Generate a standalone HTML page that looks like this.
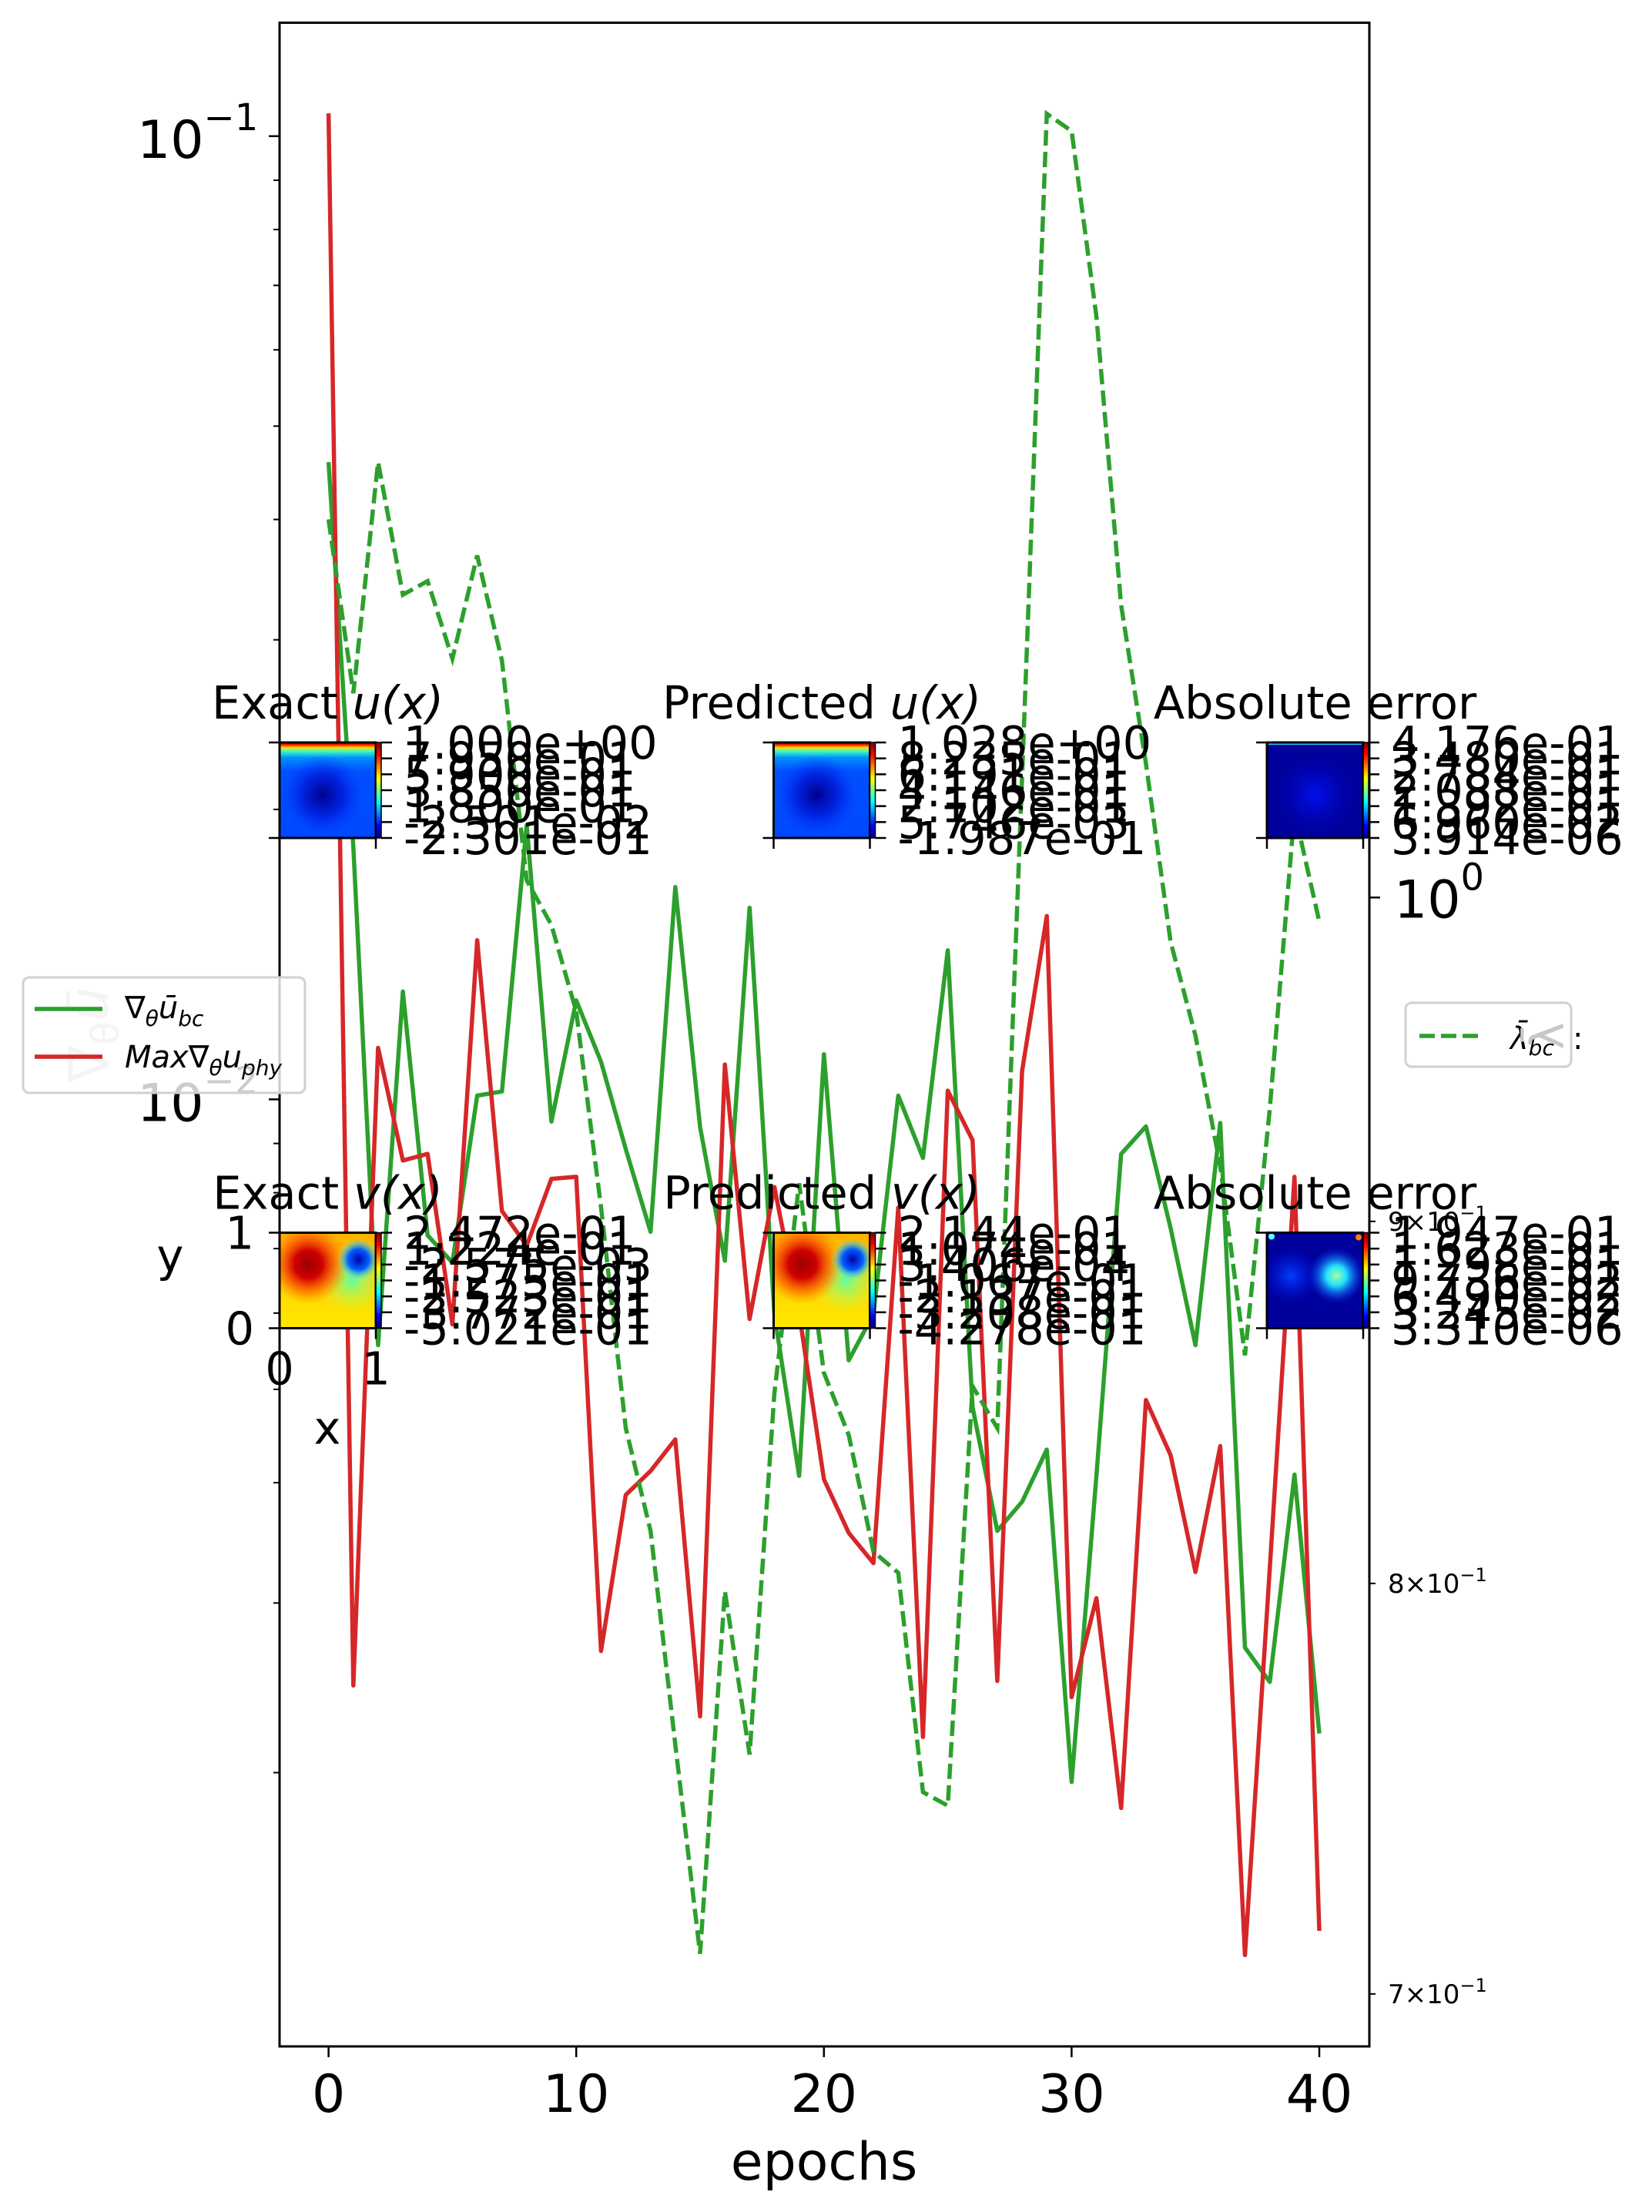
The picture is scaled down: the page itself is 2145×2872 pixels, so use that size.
<!DOCTYPE html>
<html><head><meta charset="utf-8"><style>
html,body{margin:0;padding:0;background:#fff}
svg{display:block}
text{font-family:"DejaVu Sans","Liberation Sans",sans-serif}
</style></head><body>
<svg id="fig" xmlns="http://www.w3.org/2000/svg" width="2145" height="2872" viewBox="0 0 2145 2872">
<defs>
  <clipPath id="axclip"><rect x="363" y="29.5" width="1415" height="2627.5"/></clipPath>
  <linearGradient id="jet" x1="0" y1="1" x2="0" y2="0">
    <stop offset="0" stop-color="#00007f"/><stop offset="0.125" stop-color="#0000ff"/>
    <stop offset="0.375" stop-color="#00ffff"/><stop offset="0.625" stop-color="#ffff00"/>
    <stop offset="0.875" stop-color="#ff0000"/><stop offset="1" stop-color="#7f0000"/>
  </linearGradient>
  <linearGradient id="uex" x1="0" y1="0" x2="0" y2="1">
    <stop offset="0" stop-color="#8f0000"/><stop offset="0.025" stop-color="#ff2000"/>
    <stop offset="0.055" stop-color="#ffe000"/><stop offset="0.09" stop-color="#40ffc0"/>
    <stop offset="0.16" stop-color="#0090ff"/><stop offset="0.3" stop-color="#0050ff"/>
    <stop offset="1" stop-color="#0048ff"/>
  </linearGradient>
  <radialGradient id="udark" cx="0.45" cy="0.55" r="0.42">
    <stop offset="0" stop-color="#00008a"/><stop offset="0.5" stop-color="#0010d0" stop-opacity="0.7"/>
    <stop offset="1" stop-color="#0030ff" stop-opacity="0"/>
  </radialGradient>
  <radialGradient id="errlight" cx="0.5" cy="0.55" r="0.5">
    <stop offset="0" stop-color="#0010f0"/><stop offset="1" stop-color="#0000a0" stop-opacity="0"/>
  </radialGradient>
  <linearGradient id="vbase" x1="0" y1="0" x2="0" y2="1">
    <stop offset="0" stop-color="#ffb000"/><stop offset="0.6" stop-color="#ffd800"/><stop offset="1" stop-color="#ffe800"/>
  </linearGradient>
  <radialGradient id="vred" cx="0.3" cy="0.33" r="0.42">
    <stop offset="0" stop-color="#9a0000"/><stop offset="0.35" stop-color="#d00000"/>
    <stop offset="0.7" stop-color="#ff5000" stop-opacity="0.6"/><stop offset="1" stop-color="#ff9000" stop-opacity="0"/>
  </radialGradient>
  <radialGradient id="vgreen" cx="0.75" cy="0.5" r="0.35">
    <stop offset="0" stop-color="#60ffa0"/><stop offset="1" stop-color="#d0ff40" stop-opacity="0"/>
  </radialGradient>
  <radialGradient id="vblue" cx="0.82" cy="0.28" r="0.22">
    <stop offset="0" stop-color="#0000b0"/><stop offset="0.5" stop-color="#0060ff"/>
    <stop offset="1" stop-color="#40ffff" stop-opacity="0"/>
  </radialGradient>
  <radialGradient id="verr" cx="0.72" cy="0.45" r="0.3">
    <stop offset="0" stop-color="#a0ffa0"/><stop offset="0.35" stop-color="#20e0ff"/>
    <stop offset="1" stop-color="#0020ff" stop-opacity="0"/>
  </radialGradient>
  <radialGradient id="verr2" cx="0.25" cy="0.45" r="0.3">
    <stop offset="0" stop-color="#0040ff"/><stop offset="1" stop-color="#0010e0" stop-opacity="0"/>
  </radialGradient>
</defs>

<rect x="0" y="0" width="2145" height="2872" fill="#fff"/>
<g id="lines" clip-path="url(#axclip)"></g>
<rect x="363" y="29.5" width="1415" height="2627.5" fill="none" stroke="#000" stroke-width="3"/>
<g id="ticks"></g>

<text x="1070" y="2830" font-size="68" text-anchor="middle">epochs</text>

<text transform="translate(140,1343) rotate(-90)" font-size="72" fill="#c8c8c8" text-anchor="middle">∇<tspan font-size="50" dy="14">θ</tspan><tspan dy="-14" font-style="italic">ū</tspan></text>

<g id="insets"></g>

<g>
  <rect x="30" y="1269" width="366" height="150" rx="8" fill="#fff" fill-opacity="0.8" stroke="#d0d0d0" stroke-width="3"/>
  <line x1="45" y1="1310" x2="133" y2="1310" stroke="#2ca02c" stroke-width="5.5"/>
  <text x="162" y="1322" font-size="40">∇<tspan font-size="28" dy="10" font-style="italic">θ</tspan><tspan dy="-10" font-style="italic">ū</tspan><tspan font-size="28" dy="10" font-style="italic">bc</tspan></text>
  <line x1="45" y1="1372" x2="133" y2="1372" stroke="#d62728" stroke-width="5.5"/>
  <text x="162" y="1386" font-size="40" font-style="italic">Max∇<tspan font-size="28" dy="10">θ</tspan><tspan dy="-10">u</tspan><tspan font-size="28" dy="10">phy</tspan></text>
</g>

<g>
  <rect x="1825" y="1302" width="215" height="83" rx="8" fill="#fff" fill-opacity="0.8" stroke="#d0d0d0" stroke-width="3"/>
  <line x1="1843" y1="1345" x2="1927" y2="1345" stroke="#2ca02c" stroke-width="5.5" stroke-dasharray="20,8"/>
  <text x="1961" y="1362" font-size="40" font-style="italic">λ̄<tspan font-size="28" dy="8">bc</tspan></text>
  <text transform="translate(2030,1345) rotate(-90)" font-size="60" fill="#c8c8c8" text-anchor="middle">λ̄</text>
  <text x="2042" y="1362" font-size="40">:</text>
</g>

<script>
const epochs = [0,1,2,3,4,5,6,7,8,9,10,11,12,13,14,15,16,17,18,19,20,21,22,23,24,25,26,27,28,29,30,31,32,33,34,35,36,37,38,39,40];
const gradBc = [0.04587,0.01827,0.005557,0.01294,0.007226,0.006768,0.01009,0.01019,0.01927,0.009483,0.01267,0.01094,0.008878,0.007287,0.01661,0.009359,0.006801,0.01581,0.005984,0.004066,0.01114,0.005359,0.005984,0.01009,0.008694,0.01428,0.004792,0.003565,0.003821,0.004329,0.001956,0.004066,0.008776,0.009374,0.007348,0.005557,0.009452,0.002697,0.002484,0.004078,0.002196];
const maxGradPhy = [0.1056,0.002463,0.01131,0.00864,0.00878,0.00584,0.01463,0.00766,0.00705,0.00827,0.00831,0.002675,0.003884,0.004113,0.004436,0.002288,0.01087,0.005916,0.00811,0.006,0.004033,0.003548,0.0033,0.00772,0.002178,0.01021,0.00907,0.00249,0.0107,0.0155,0.002395,0.003035,0.001838,0.004873,0.004271,0.003231,0.004365,0.001293,0.003258,0.00831,0.00137];
const lambdaBc = [1.1309,1.0687,1.1522,1.1035,1.1084,1.0808,1.1177,1.0802,1.0056,0.9911,0.9636,0.9041,0.8415,0.8138,0.7592,0.7092,0.7980,0.7567,0.8511,0.9112,0.8567,0.8396,0.8083,0.8028,0.7475,0.7442,0.8530,0.8415,1.0400,1.2904,1.2832,1.2081,1.0998,1.0446,0.9856,0.9561,0.9163,0.8616,0.9335,1.0284,0.9922];
const xTicks = [0,10,20,30,40];
const xTickLabels = ["0","10","20","30","40"];
const leftMajor = [0.1,0.01];
const leftMajorExp = ["−1","−2"];
const leftMinor = [0.02,0.03,0.04,0.05,0.06,0.07,0.08,0.09,0.002,0.003,0.004,0.005,0.006,0.007,0.008,0.009];
const rightMinor = [0.7,0.8,0.9];
const rightMinorLabels = ["7","8","9"];

const NS = "http://www.w3.org/2000/svg";
function xS(e){ return 426.6 + e*32.16; }
function yL(v){ return 176.8 + (-1 - Math.log10(v))*1250.6; }
function yR(v){ return 1165.3 - Math.log10(v)*9190; }
function mk(tag, attrs, parent){
  const el = document.createElementNS(NS, tag);
  for (const k in attrs) el.setAttribute(k, attrs[k]);
  parent.appendChild(el);
  return el;
}
const lines = document.getElementById('lines');
function pts(arr, ys){ return arr.map((v,i)=>xS(epochs[i]).toFixed(1)+','+ys(v).toFixed(1)).join(' '); }

const lg = mk('polyline', {points: pts(gradBc, yL), fill:'none', stroke:'#2ca02c', 'stroke-width':5.5, 'stroke-linejoin':'round'}, lines);


const lr = mk('polyline', {points: pts(maxGradPhy, yL), fill:'none', stroke:'#d62728', 'stroke-width':5.5, 'stroke-linejoin':'round'}, lines);


const ld = mk('polyline', {points: pts(lambdaBc, yR), fill:'none', stroke:'#2ca02c', 'stroke-width':5.5, 'stroke-dasharray':'20,8'}, lines);



const tg = document.getElementById('ticks');
xTicks.forEach((t,i)=>{
  const x = xS(t);
  const l = mk('line', {x1:x, y1:2657, x2:x, y2:2671, stroke:'#000', 'stroke-width':2.5}, tg);
  
  
  const tx = mk('text', {x:x, y:2742, 'font-size':68, 'text-anchor':'middle'}, tg);
  tx.textContent = xTickLabels[i];
  
  
});
leftMajor.forEach((v,i)=>{
  const y = yL(v);
  const l = mk('line', {x1:349, y1:y, x2:363, y2:y, stroke:'#000', 'stroke-width':2.5}, tg);
  
  
  const tx = mk('text', {x:178, y:y+28, 'font-size':68}, tg);
  
  
  tx.textContent = '10';
  const sp = mk('tspan', {'font-size':48, dy:-36}, tx);
  sp.textContent = leftMajorExp[i];
});
leftMinor.forEach(v=>{
  const y = yL(v);
  if (y < 29.5 || y > 2657) return;
  const l = mk('line', {x1:355, y1:y, x2:363, y2:y, stroke:'#000', 'stroke-width':2}, tg);
  
  
});
{
  const y = yR(1);
  const l = mk('line', {x1:1778, y1:y, x2:1792, y2:y, stroke:'#000', 'stroke-width':2.5}, tg);
  
  
  const tx = mk('text', {x:1810, y:y+26, 'font-size':68}, tg);
  
  
  tx.textContent = '10';
  const sp = mk('tspan', {'font-size':48, dy:-36}, tx);
  sp.textContent = '0';
}
rightMinor.forEach((v,i)=>{
  const y = yR(v);
  const l = mk('line', {x1:1778, y1:y, x2:1786, y2:y, stroke:'#000', 'stroke-width':2}, tg);
  
  
  const tx = mk('text', {x:1802, y:y+12, 'font-size':34}, tg);
  
  
  tx.textContent = rightMinorLabels[i] + '×10';
  const sp = mk('tspan', {'font-size':24, dy:-15}, tx);
  sp.textContent = '−1';
});

const insetTitles = [["Exact ","u(x)"],["Predicted ","u(x)"],["Absolute error",""],["Exact ","v(x)"],["Predicted ","v(x)"],["Absolute error",""]];
const cbLabels = [
 ["1.000e+00","7.950e-01","5.900e-01","3.850e-01","1.800e-01","-2.501e-02","-2.301e-01"],
 ["1.028e+00","8.235e-01","6.191e-01","4.146e-01","2.102e-01","5.746e-03","-1.987e-01"],
 ["4.176e-01","3.480e-01","2.784e-01","2.088e-01","1.392e-01","6.960e-02","3.914e-06"],
 ["2.472e-01","1.224e-01","-2.575e-03","-1.275e-01","-2.523e-01","-3.772e-01","-5.021e-01"],
 ["2.144e-01","1.074e-01","3.406e-04","-1.067e-01","-2.137e-01","-3.208e-01","-4.278e-01"],
 ["1.947e-01","1.623e-01","1.298e-01","9.736e-02","6.490e-02","3.245e-02","3.310e-06"]];
const names = ['exact-u','predicted-u','error-u','exact-v','predicted-v','error-v'];
const colX = [363, 1004.5, 1645];
const rowY = [964, 1600.5];
const ig = document.getElementById('insets');
function fillHeat(g, kind, x, y, w, h){
  const add = (f)=>mk('rect', {x:x, y:y, width:w, height:h, fill:f}, g);
  if (kind===0||kind===1){ add('url(#uex)'); add('url(#udark)'); }
  else if (kind===2||kind===5){
    add('#00009a');
    if (kind===2){ add('url(#errlight)'); mk('rect',{x:x+2,y:y,width:w-4,height:3,fill:'#30c0ff'},g); }
    else { add('url(#verr2)'); add('url(#verr)'); mk('circle',{cx:x+w-6,cy:y+6,r:4,fill:'#ff8000'},g); mk('circle',{cx:x+6,cy:y+5,r:4,fill:'#60ffff'},g); }
  }
  else { add('url(#vbase)'); add('url(#vgreen)'); add('url(#vred)'); add('url(#vblue)'); }
}
for (let k=0;k<6;k++){
  const x = colX[k%3], y = rowY[Math.floor(k/3)], w=125, h=124;
  const g = mk('g', {}, ig);
  
  
  const t = mk('text', {x:x+w/2, y:y-31, 'font-size':59, 'text-anchor':'middle'}, g);
  
  
  t.textContent = insetTitles[k][0];
  if (insetTitles[k][1]){ const s = mk('tspan', {'font-style':'italic'}, t); s.textContent = insetTitles[k][1]; }
  fillHeat(g, k, x, y, w, h);
  mk('rect', {x:x, y:y, width:w, height:h, fill:'none', stroke:'#000', 'stroke-width':3}, g);
  [[x-14,y,x,y],[x-14,y+h,x,y+h],[x,y+h,x,y+h+14],[x+w,y+h,x+w,y+h+14]].forEach(c=>mk('line',{x1:c[0],y1:c[1],x2:c[2],y2:c[3],stroke:'#000','stroke-width':2.5},g));
  const cb = mk('rect', {x:x+w, y:y, width:7, height:h, fill:'url(#jet)', stroke:'#000', 'stroke-width':1.5}, g);
  
  
  for (let j=0;j<7;j++){
    const ty = y + j*h/6;
    mk('line', {x1:x+w+7, y1:ty, x2:x+w+21, y2:ty, stroke:'#000', 'stroke-width':2.5}, g);
    const lt = mk('text', {x:x+w+36, y:ty+21, 'font-size':59}, g);
    
    
    lt.textContent = cbLabels[k][j];
  }
  if (k===3){
    const labs = [[330,y+21,'1','end'],[330,y+h+21,'0','end'],[x,y+h+73,'0','middle'],[x+w,y+h+73,'1','middle'],[221,y+50,'y','middle'],[425,y+h+150,'x','middle']];
    labs.forEach(a=>{
      const tt = mk('text', {x:a[0], y:a[1], 'font-size':59, 'text-anchor':a[3]}, g);
      
      
      tt.textContent = a[2];
    });
  }
}
</script>
</svg>
</body></html>
